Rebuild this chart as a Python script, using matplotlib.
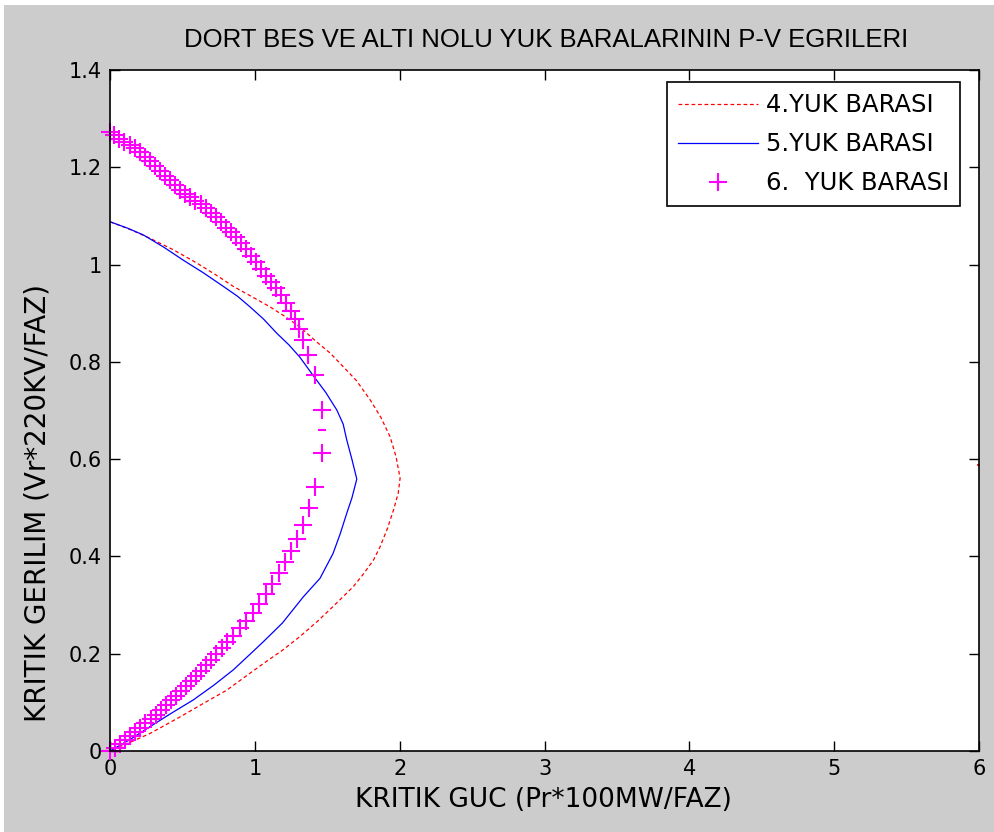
import matplotlib
matplotlib.use("Agg")
import matplotlib.pyplot as plt
from matplotlib.patches import Rectangle

# P-V curves of load buses 4, 5 and 6 (P in Pr*100MW/phase, V in Vr*220kV/phase)
p_bus4 = [0.0, 0.14, 0.276, 0.44, 0.60, 0.73, 0.852, 0.98, 1.105, 1.21, 1.31, 1.427, 1.52,
          1.588, 1.70, 1.796, 1.87, 1.934, 1.975, 2.003, 1.99, 1.957, 1.915, 1.865, 1.82,
          1.75, 1.68, 1.54, 1.43, 1.31, 1.19, 1.06, 0.93, 0.806, 0.64, 0.483, 0.276, 0.14, 0.0]
v_bus4 = [1.088, 1.072, 1.054, 1.03, 1.003, 0.979, 0.955, 0.934, 0.913, 0.893, 0.872, 0.841,
          0.818, 0.797, 0.762, 0.722, 0.686, 0.646, 0.605, 0.561, 0.53, 0.495, 0.457, 0.42,
          0.393, 0.364, 0.338, 0.297, 0.266, 0.235, 0.207, 0.18, 0.152, 0.125, 0.097, 0.07,
          0.036, 0.018, 0.0]

p_bus5 = [0.0, 0.12, 0.23, 0.37, 0.506, 0.645, 0.783, 0.88, 0.967, 1.06, 1.151, 1.235, 1.31,
          1.40, 1.49, 1.566, 1.61, 1.635, 1.67, 1.704, 1.67, 1.635, 1.59, 1.54, 1.45, 1.335,
          1.19, 1.06, 0.96, 0.852, 0.72, 0.575, 0.42, 0.276, 0.14, 0.0]
v_bus5 = [1.088, 1.075, 1.061, 1.036, 1.009, 0.983, 0.955, 0.935, 0.913, 0.888, 0.859, 0.835,
          0.81, 0.773, 0.737, 0.701, 0.672, 0.639, 0.60, 0.559, 0.52, 0.489, 0.447, 0.406,
          0.355, 0.317, 0.263, 0.225, 0.197, 0.167, 0.136, 0.105, 0.077, 0.05, 0.024, 0.0]

p_bus6 = [0.0, 0.03, 0.065, 0.10, 0.135, 0.17, 0.205, 0.24, 0.275, 0.31, 0.345, 0.38,
          0.415, 0.45, 0.485, 0.52, 0.555, 0.59, 0.625, 0.66, 0.695, 0.73, 0.765, 0.80,
          0.835, 0.87, 0.905, 0.94, 0.975, 1.01, 1.04, 1.075, 1.11, 1.145, 1.18, 1.215,
          1.25, 1.28, 1.305, 1.335, 1.37, 1.416, 1.462,
          1.462, 1.416, 1.377, 1.33, 1.29, 1.25, 1.21, 1.165, 1.12, 1.075, 1.03, 0.985,
          0.94, 0.895, 0.85, 0.81, 0.77, 0.735, 0.70, 0.665, 0.63, 0.595, 0.56, 0.525,
          0.49, 0.455, 0.42, 0.385, 0.35, 0.315, 0.28, 0.245, 0.21, 0.175, 0.14, 0.105,
          0.07, 0.035, 0.0]
v_bus6 = [1.273, 1.266, 1.259, 1.252, 1.246, 1.239, 1.231, 1.222, 1.213, 1.203, 1.193, 1.183,
          1.173, 1.163, 1.154, 1.146, 1.138, 1.131, 1.124, 1.116, 1.107, 1.097, 1.087, 1.076,
          1.066, 1.056, 1.044, 1.031, 1.018, 1.005, 0.990, 0.977, 0.965, 0.952, 0.937, 0.921,
          0.904, 0.888, 0.868, 0.845, 0.814, 0.773, 0.702,
          0.613, 0.542, 0.499, 0.465, 0.436, 0.412, 0.388, 0.365, 0.343, 0.323, 0.303, 0.284,
          0.267, 0.252, 0.237, 0.224, 0.211, 0.199, 0.187, 0.176, 0.165, 0.154, 0.144, 0.134,
          0.124, 0.114, 0.104, 0.094, 0.084, 0.075, 0.066, 0.057, 0.048, 0.040, 0.031, 0.023,
          0.015, 0.007, 0.0]

# stray points left by the solver
p_bus4_stray = [6.0]
v_bus4_stray = [0.588]
p_bus6_stray = [1.462]
v_bus6_stray = [0.659]

labels = ['4.YUK BARASI', '5.YUK BARASI', '6.  YUK BARASI']
x_ticks = [0, 1, 2, 3, 4, 5, 6]
y_ticks = [0, 0.2, 0.4, 0.6, 0.8, 1.0, 1.2, 1.4]
y_tick_labels = ['0', '0.2', '0.4', '0.6', '0.8', '1', '1.2', '1.4']

plt.rcParams['font.family'] = ['DejaVu Sans']

W, H = 994, 832
fig = plt.figure(figsize=(W / 100, H / 100), dpi=100, facecolor='white')
# grey figure panel with a thin white margin on the top and left
fig.patches.append(Rectangle((4 / W, 0), 1, (H - 5) / H, transform=fig.transFigure,
                             facecolor='#cccccc', edgecolor='none', zorder=-10))

ax = fig.add_axes([110 / W, 81 / H, 869 / W, 681 / H])
ax.set_facecolor('white')

ax.plot(p_bus4, v_bus4, color='red', linestyle='--', dashes=(3, 2.2), linewidth=0.9,
        label=labels[0])
ax.plot(p_bus5, v_bus5, color='blue', linestyle='-', linewidth=0.9, label=labels[1])
ax.plot(p_bus6, v_bus6, color='magenta', linestyle='none', marker='+', markersize=13,
        markeredgewidth=1.5, label=labels[2], clip_on=False)
ax.plot(p_bus4_stray, v_bus4_stray, color='red', linestyle='none', marker='_',
        markersize=3, markeredgewidth=1.2)
ax.plot(p_bus6_stray, v_bus6_stray, color='magenta', linestyle='none', marker='_',
        markersize=6, markeredgewidth=1.5)

ax.set_xlim(0, 6)
ax.set_ylim(0, 1.4)
ax.set_xticks(x_ticks)
ax.set_yticks(y_ticks)
ax.set_yticklabels(y_tick_labels)
ax.tick_params(direction='in', length=7.5, width=1, top=True, right=True,
               labelsize=15, pad=6)
for spine in ax.spines.values():
    spine.set_linewidth(1.2)

fig.text(546 / W, 1 - 40 / H, 'DORT BES VE ALTI NOLU YUK BARALARININ P-V EGRILERI',
         family='Liberation Sans', fontsize=18.5, ha='center', va='center')
fig.text(543 / W, 1 - 800 / H, 'KRITIK GUC (Pr*100MW/FAZ)', fontsize=19,
         ha='center', va='center')
fig.text(38 / W, 1 - 503 / H, 'KRITIK GERILIM (Vr*220KV/FAZ)', fontsize=20,
         rotation=90, ha='center', va='center')

leg = ax.legend(loc='upper right', bbox_to_anchor=(0.978, 0.982), fontsize=17.5,
                fancybox=False, framealpha=1, edgecolor='black', handlelength=3.3,
                handletextpad=0.3, borderpad=0.45, labelspacing=0.62, borderaxespad=0)
leg.get_frame().set_linewidth(1.2)

fig.savefig('out.png', dpi=100, facecolor=fig.get_facecolor())
